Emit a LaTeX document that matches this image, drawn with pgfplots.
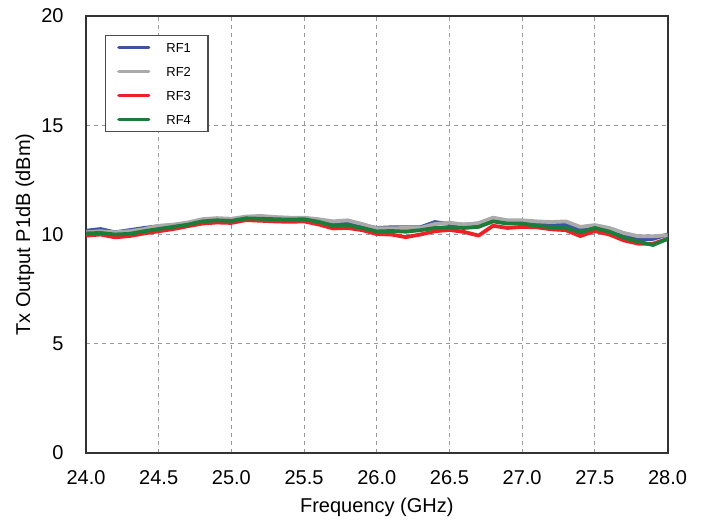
\documentclass[border=0pt]{standalone}
\usepackage{pgfplots}
\pgfplotsset{compat=1.18}
\usepackage{pgfplotstable}
\usepackage{fontspec}
\setmainfont{Liberation Sans}
\definecolor{cRFa}{RGB}{62,84,163}
\definecolor{cRFb}{RGB}{170,170,170}
\definecolor{cRFc}{RGB}{238,32,40}
\definecolor{cRFd}{RGB}{28,125,58}
\pgfplotstableread{
f rf1 rf2 rf3 rf4
24.0 10.17 10.10 9.95 10.05
24.1 10.25 10.15 10.00 10.07
24.2 10.10 10.10 9.87 10.00
24.3 10.20 10.15 9.93 10.03
24.4 10.30 10.25 10.05 10.15
24.5 10.38 10.40 10.15 10.25
24.6 10.42 10.45 10.25 10.35
24.7 10.50 10.55 10.38 10.45
24.8 10.65 10.70 10.50 10.60
24.9 10.70 10.75 10.55 10.65
25.0 10.68 10.72 10.53 10.62
25.1 10.78 10.82 10.66 10.74
25.2 10.80 10.85 10.63 10.72
25.3 10.75 10.80 10.60 10.70
25.4 10.72 10.77 10.58 10.68
25.5 10.70 10.77 10.60 10.70
25.6 10.64 10.70 10.46 10.58
25.7 10.53 10.60 10.28 10.40
25.8 10.56 10.65 10.30 10.42
25.9 10.43 10.48 10.20 10.30
26.0 10.30 10.28 10.02 10.14
26.1 10.33 10.28 10.00 10.16
26.2 10.33 10.30 9.88 10.13
26.3 10.33 10.30 10.00 10.20
26.4 10.57 10.48 10.15 10.30
26.5 10.48 10.54 10.21 10.33
26.6 10.45 10.45 10.12 10.30
26.7 10.50 10.52 9.95 10.35
26.8 10.68 10.77 10.40 10.60
26.9 10.58 10.65 10.30 10.50
27.0 10.55 10.65 10.35 10.50
27.1 10.50 10.60 10.33 10.40
27.2 10.45 10.57 10.24 10.33
27.3 10.45 10.60 10.20 10.30
27.4 10.25 10.35 9.93 10.10
27.5 10.36 10.43 10.16 10.30
27.6 10.25 10.30 10.00 10.13
27.7 9.97 10.07 9.73 9.85
27.8 9.80 9.92 9.58 9.67
27.9 9.80 9.92 9.58 9.52
28.0 10.00 9.97 9.80 9.80
}\datatable
\begin{document}
\begin{tikzpicture}
\begin{axis}[
  width=290.75pt, height=218.5pt, scale only axis,
  xmin=24, xmax=28, ymin=0, ymax=20,
  xtick={24,24.5,...,28}, ytick={0,5,10,15,20},
  major tick length=0pt,
  /pgf/number format/assume math mode=true,
  xticklabel={\pgfmathprintnumber[fixed,fixed zerofill,precision=1]{\tick}},
  yticklabel={\pgfmathprintnumber[fixed,precision=0]{\tick}},
  tick label style={font=\fontsize{10}{12}\selectfont},
  xticklabel style={inner sep=0pt, anchor=north, yshift=-8.5pt},
  yticklabel style={inner sep=0pt, anchor=east, xshift=-11pt},
  axis line style={draw=black!80, line width=1pt},
  grid=major,
  major grid style={draw=black!40, line width=0.5pt, dash pattern=on 2pt off 2pt},
  xlabel={Frequency (GHz)}, ylabel={Tx Output P1dB (dBm)},
  label style={font=\fontsize{10}{12}\selectfont},
  every axis x label/.style={at={(rel axis cs:0.5,0)}, yshift=-27pt, anchor=center},
  every axis y label/.style={at={(rel axis cs:0,0.5)}, xshift=-30.5pt, rotate=90, anchor=center},
  legend cell align=left,
  legend style={at={(axis description cs:0.0327,0.9565)}, anchor=north west,
    draw=black!70, line width=0.6pt, fill=white,
    inner xsep=5.8pt, inner ysep=3.3pt, row sep=7.1pt, column sep=8pt,
    font=\fontsize{6.5}{7}\selectfont,
    nodes={inner sep=0pt, text width=15pt, text height=5pt, text depth=0pt}},
  legend image code/.code={\draw[#1, line width=1.6pt] (0pt,0pt) -- (15pt,0pt);},
  every axis plot/.append style={line width=1.9pt, line join=round, line cap=round},
]
\addplot[cRFa] table[x=f, y=rf1] {\datatable};
\addplot[cRFb] table[x=f, y=rf2] {\datatable};
\addplot[cRFc] table[x=f, y=rf3] {\datatable};
\addplot[cRFd] table[x=f, y=rf4] {\datatable};
\legend{RF1,RF2,RF3,RF4}
\end{axis}
\path (current axis.south west) ++(-43pt,-34pt) coordinate (bbsw);
\path (current axis.north east) ++(18.25pt,8pt) coordinate (bbne);
\path (bbsw) rectangle (bbne);
\end{tikzpicture}
\end{document}
